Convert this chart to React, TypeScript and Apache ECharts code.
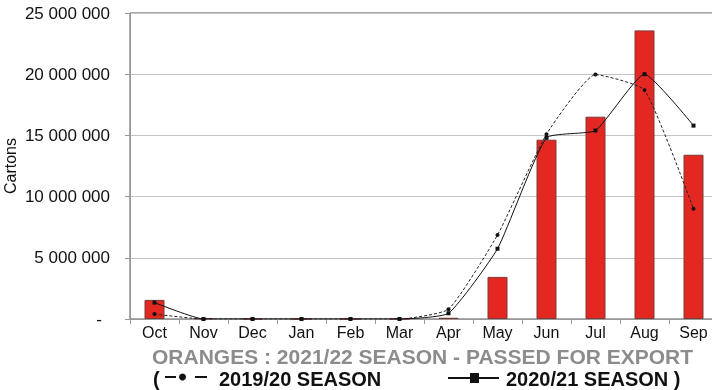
import React, { useEffect, useRef } from "react";
import * as echarts from "echarts";

const months = ["Oct", "Nov", "Dec", "Jan", "Feb", "Mar", "Apr", "May", "Jun", "Jul", "Aug", "Sep"];
const season2122 = [1560000, 50000, 0, 0, 0, 0, 100000, 3440000, 14650000, 16530000, 23580000, 13420000];
const season1920 = [400000, 0, 0, 0, 0, 0, 800000, 6860000, 15100000, 19970000, 18700000, 9000000];
const season2021 = [1340000, 0, 0, 0, 0, 0, 470000, 5740000, 14800000, 15400000, 20000000, 15800000];
const titleText = "ORANGES : 2021/22 SEASON - PASSED FOR EXPORT";
const legend1920 = "2019/20 SEASON";
const legend2021 = "2020/21 SEASON )";

function fmt(v: number): string {
  if (v === 0) return "{dash|-}";
  return String(v).replace(/\B(?=(\d{3})+(?!\d))/g, " ");
}

export default function App() {
  const ref = useRef<HTMLDivElement>(null);
  useEffect(() => {
    if (!ref.current) return;
    const chart = echarts.init(ref.current, null, { renderer: "svg" });
    const font = "'Liberation Sans', Arial, sans-serif";
    chart.setOption({
      animation: false,
      textStyle: { fontFamily: font },
      grid: {
        left: 130, top: 13, right: -6, bottom: 71,
        show: true, borderColor: "#555", borderWidth: 1,
        outerBoundsMode: "none",
      },
      xAxis: {
        type: "category",
        data: months,
        axisLine: { lineStyle: { color: "#999" } },
        axisTick: { show: true, length: 5, lineStyle: { color: "#999" } },
        axisLabel: { color: "#111", fontSize: 16, margin: 5, fontFamily: font },
      },
      yAxis: {
        type: "value",
        min: 0, max: 25000000, interval: 5000000,
        name: "Cartons",
        nameLocation: "middle",
        nameGap: 112,
        nameMoveOverlap: false,
        nameRotate: 90,
        nameTextStyle: { color: "#111", fontSize: 16, fontFamily: font },
        axisLine: { show: true, lineStyle: { color: "#999" } },
        axisTick: { show: true, length: 5, lineStyle: { color: "#999" } },
        splitLine: { lineStyle: { color: "#c4c4c4" } },
        axisLabel: {
          color: "#111", fontSize: 17, margin: 20, fontFamily: font,
          formatter: fmt,
          rich: { dash: { fontSize: 17, color: "#111", padding: [0, 8, 0, 0], fontFamily: font } },
        },
      },
      series: [
        {
          name: "2021/22",
          type: "bar",
          data: season2122,
          barWidth: 20,
          itemStyle: { color: "#e32822", borderColor: "#7a3a3a", borderWidth: 1 },
          z: 1,
        },
        {
          name: "2019/20",
          type: "line",
          data: season1920,
          smooth: 0.15,
          symbol: "circle",
          symbolSize: 4,
          lineStyle: { color: "#222", width: 1, type: [3, 2] },
          itemStyle: { color: "#111" },
          z: 3,
        },
        {
          name: "2020/21",
          type: "line",
          data: season2021,
          smooth: 0.15,
          symbol: "rect",
          symbolSize: 4,
          lineStyle: { color: "#111", width: 1 },
          itemStyle: { color: "#111" },
          z: 4,
        },
      ],
      graphic: [
        {
          type: "text", x: 152, y: 356,
          style: { text: titleText, fill: "#8c8c8c", font: `bold 21px ${font}`, verticalAlign: "middle" },
        },
        {
          type: "text", x: 153, y: 379,
          style: { text: "(", fill: "#111", font: `bold 20px ${font}`, verticalAlign: "middle" },
        },
        { type: "line", shape: { x1: 165, y1: 377, x2: 176, y2: 377 }, style: { stroke: "#111", lineWidth: 2 } },
        { type: "circle", shape: { cx: 182.5, cy: 377, r: 3.5 }, style: { fill: "#111" } },
        { type: "line", shape: { x1: 195, y1: 377, x2: 207, y2: 377 }, style: { stroke: "#111", lineWidth: 2 } },
        {
          type: "text", x: 219, y: 379,
          style: { text: legend1920, fill: "#111", font: `bold 20px ${font}`, verticalAlign: "middle" },
        },
        { type: "line", shape: { x1: 448, y1: 378, x2: 499, y2: 378 }, style: { stroke: "#111", lineWidth: 2 } },
        { type: "rect", shape: { x: 470, y: 373, width: 9, height: 10 }, style: { fill: "#111" } },
        {
          type: "text", x: 506, y: 379,
          style: { text: legend2021, fill: "#111", font: `bold 20px ${font}`, verticalAlign: "middle" },
        },
      ],
    });
    return () => chart.dispose();
  }, []);
  return <div ref={ref} style={{ width: 712, height: 390, position: "fixed", left: 0, top: 0 }} />;
}
